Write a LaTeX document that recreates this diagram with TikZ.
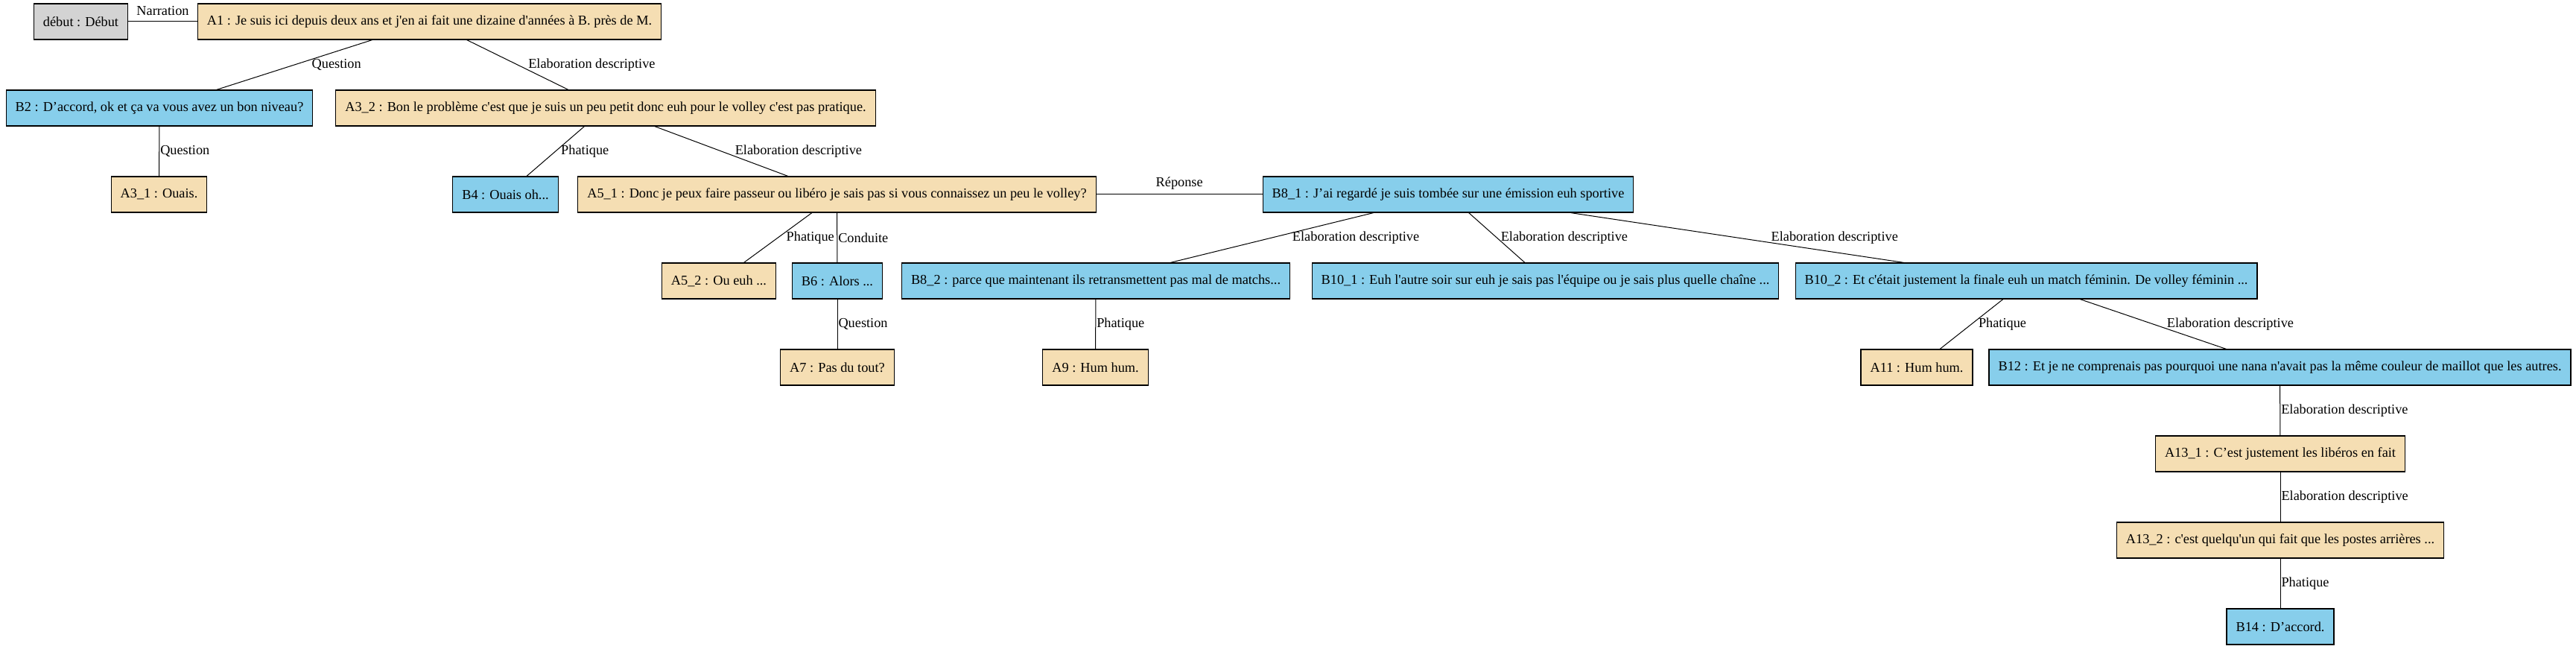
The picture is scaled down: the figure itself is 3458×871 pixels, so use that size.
\documentclass[tikz,border=0pt]{standalone}
\usepackage{fontspec}
\setmainfont{Liberation Serif}[Ligatures=TeXOff]
\usetikzlibrary{positioning}
\definecolor{wheatc}{HTML}{F5DEB3}
\definecolor{skyc}{HTML}{87CEEB}
\definecolor{greyc}{HTML}{D3D3D3}

\begin{document}
\begin{tikzpicture}[
  x=0.5pt, y=-0.5pt,
  font=\fontsize{9.15pt}{11pt}\selectfont,
  box/.style={draw, line width=0.6pt, inner xsep=6.25pt, inner ysep=0pt, minimum height=24pt},
  sa/.style={box, fill=wheatc},
  sb/.style={box, fill=skyc},
  ini/.style={box, fill=greyc},
  lbl/.style={inner sep=0pt},
  rel/.style={line width=0.5pt}
]
\useasboundingbox (0,0) rectangle (3458,871);
% row 1
\node[ini] (deb) at (108.5,29) {début : Début};
\node[sa] (a1) at (576.5,29) {A1 : Je suis ici depuis deux ans et j'en ai fait une dizaine d'années à B. près de M.};
% row 2
\node[sb] (b2) at (214,145) {B2 : D’accord, ok et ça va vous avez un bon niveau?};
\node[sa] (a32) at (813,145) {A3\_2 : Bon le problème c'est que je suis un peu petit donc euh pour le volley c'est pas pratique.};
% row 3
\node[sa] (a31) at (213.5,261) {A3\_1 : Ouais.};
\node[sb] (b4) at (678.5,261) {B4 : Ouais oh...};
\node[sa] (a51) at (1123.5,261) {A5\_1 : Donc je peux faire passeur ou libéro je sais pas si vous connaissez un peu le volley?};
\node[sb] (b81) at (1944,261) {B8\_1 : J’ai regardé je suis tombée sur une émission euh sportive};
% row 4
\node[sa] (a52) at (965,377) {A5\_2 : Ou euh ...};
\node[sb] (b6) at (1124,377) {B6 : Alors ...};
\node[sb] (b82) at (1471,377) {B8\_2 : parce que maintenant ils retransmettent pas mal de matchs...};
\node[sb] (b101) at (2074.5,377) {B10\_1 : Euh l'autre soir sur euh je sais pas l'équipe ou je sais plus quelle chaîne ...};
\node[sb] (b102) at (2720,377) {B10\_2 : Et c'était justement la finale euh un match féminin. De volley féminin ...};
% row 5
\node[sa] (a7) at (1124,493) {A7 : Pas du tout?};
\node[sa] (a9) at (1470.5,493) {A9 : Hum hum.};
\node[sa] (a11) at (2573,493) {A11 : Hum hum.};
\node[sb] (b12) at (3060.5,493) {B12 : Et je ne comprenais pas pourquoi une nana n'avait pas la même couleur de maillot que les autres.};
% rows 6-8
\node[sa] (a131) at (3061,609) {A13\_1 : C’est justement les libéros en fait};
\node[sa] (a132) at (3061,725) {A13\_2 : c'est quelqu'un qui fait que les postes arrières ...};
\node[sb] (b14) at (3061,841) {B14 : D’accord.};

\draw[rel] (deb) -- node[lbl, above=4pt]{Narration} (a1);
\draw[rel] (a1) -- node[lbl, right=11.5pt]{Question} (b2);
\draw[rel] (a1) -- node[lbl, right=7pt]{Elaboration descriptive} (a32);
\draw[rel] (b2) -- node[lbl, right=0.5pt]{Question} (a31);
\draw[rel] (a32) -- node[lbl, right=3.5pt]{Phatique} (b4);
\draw[rel] (a32) -- node[lbl, right=9pt]{Elaboration descriptive} (a51);
\draw[rel] (a51) -- node[lbl, right=5.5pt]{Phatique} (a52);
\draw[rel] (a51) -- node[lbl, right=0.5pt]{Conduite} (b6);
\draw[rel] (a51) -- node[lbl, above=3pt]{Réponse} (b81);
\draw[rel] (b6) -- node[lbl, right=0.5pt]{Question} (a7);
\draw[rel] (b81) -- node[lbl, right=13.5pt]{Elaboration descriptive} (b82);
\draw[rel] (b81) -- node[lbl, right=2.5pt]{Elaboration descriptive} (b101);
\draw[rel] (b81) -- node[lbl, right=22.5pt]{Elaboration descriptive} (b102);
\draw[rel] (b82) -- node[lbl, right=0.5pt]{Phatique} (a9);
\draw[rel] (b102) -- node[lbl, right=4.5pt]{Phatique} (a11);
\draw[rel] (b102) -- node[lbl, right=9pt]{Elaboration descriptive} (b12);
\draw[rel] (b12) -- node[lbl, right=0.5pt]{Elaboration descriptive} (a131);
\draw[rel] (a131) -- node[lbl, right=0.5pt]{Elaboration descriptive} (a132);
\draw[rel] (a132) -- node[lbl, right=0.5pt]{Phatique} (b14);
\end{tikzpicture}
\end{document}
